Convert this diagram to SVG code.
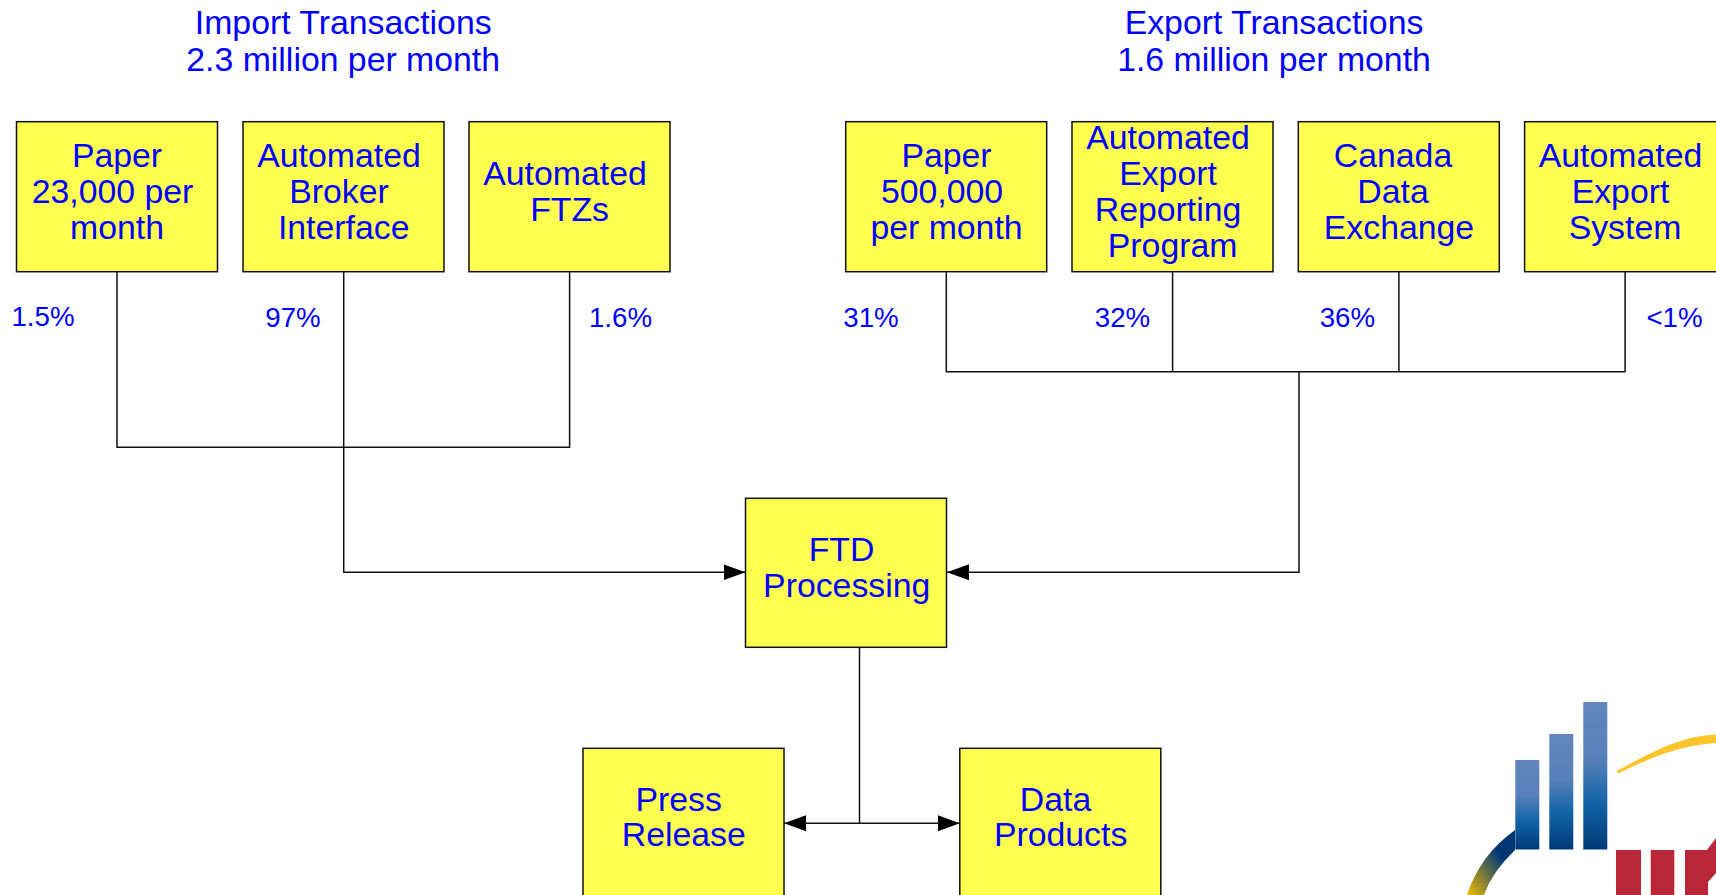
<svg xmlns="http://www.w3.org/2000/svg" width="1716" height="895" viewBox="0 0 1716 895">
<style>
.b{fill:#ffff50;stroke:#111;stroke-width:1.5}
.t{font-family:"Liberation Sans",Arial,sans-serif;font-size:33.8px;fill:#0000ff;text-anchor:middle}
.p{font-size:27.7px}
.c{fill:none;stroke:#111;stroke-width:1.5}
</style>
<defs>
<marker id="a" markerUnits="userSpaceOnUse" markerWidth="22" markerHeight="18" refX="22" refY="9" orient="auto-start-reverse"><path d="M0 1L22 9L0 17z" fill="#000"/></marker>
<linearGradient id="bar" x1="0" y1="0" x2="0" y2="1"><stop offset="0" stop-color="#6285bd"/><stop offset=".4" stop-color="#5880b8"/><stop offset=".68" stop-color="#1264a8"/><stop offset="1" stop-color="#003876"/></linearGradient>
<linearGradient id="arc" x1="0" y1="1" x2="1" y2="0"><stop offset="0" stop-color="#f0bc00"/><stop offset=".65" stop-color="#003876"/></linearGradient>
</defs>
<g id="titles">
<text class="t" x="343.2" y="33.7">Import Transactions</text><text class="t" x="343.2" y="70.7">2.3 million per month</text>
<text class="t" x="1274" y="33.7">Export Transactions</text><text class="t" x="1274" y="70.7">1.6 million per month</text>
</g>
<g id="connectors">
<path class="c" d="M117 271.7V447.3H569.6V271.7"/>
<path class="c" d="M343.7 271.7V572.3H745.5" marker-end="url(#a)"/>
<path class="c" d="M946.3 271.7V371.7H1625.1V271.7M1172.6 271.7V371.7M1398.9 271.7V371.7"/>
<path class="c" d="M1299 371.7V572.3H947" marker-end="url(#a)"/>
<path class="c" d="M859.5 647.5V823.3"/>
<path class="c" d="M784 823.3H959.8" marker-start="url(#a)" marker-end="url(#a)"/>
</g>
<g id="pct">
<text class="t p" x="43" y="326">1.5%</text><text class="t p" x="293" y="327">97%</text><text class="t p" x="620.5" y="327">1.6%</text>
<text class="t p" x="871" y="327">31%</text><text class="t p" x="1122.5" y="327">32%</text><text class="t p" x="1347.4" y="327">36%</text><text class="t p" x="1674.5" y="327">&lt;1%</text>
</g>
<g id="n1"><rect class="b" x="16.5" y="121.7" width="201" height="150"/><text class="t" x="117" y="167.3">Paper</text><text class="t" x="112.5" y="203.3">23,000 per</text><text class="t" x="117" y="239.3">month</text></g>
<g id="n2"><rect class="b" x="243" y="121.7" width="201" height="150"/><text class="t" x="339" y="167.3">Automated</text><text class="t" x="339" y="203.3">Broker</text><text class="t" x="343.7" y="239.3">Interface</text></g>
<g id="n3"><rect class="b" x="469" y="121.7" width="201" height="150"/><text class="t" x="565" y="185.3">Automated</text><text class="t" x="569.6" y="221.3">FTZs</text></g>
<g id="n4"><rect class="b" x="845.7" y="121.7" width="201" height="150"/><text class="t" x="946.5" y="167.3">Paper</text><text class="t" x="942" y="203.3">500,000</text><text class="t" x="946.5" y="239.3">per month</text></g>
<g id="n5"><rect class="b" x="1072" y="121.7" width="201" height="150"/><text class="t" x="1168" y="149.3">Automated</text><text class="t" x="1168" y="185.3">Export</text><text class="t" x="1168" y="221.3">Reporting</text><text class="t" x="1172.6" y="257.3">Program</text></g>
<g id="n6"><rect class="b" x="1298.3" y="121.7" width="201" height="150"/><text class="t" x="1393" y="167.3">Canada</text><text class="t" x="1393" y="203.3">Data</text><text class="t" x="1399" y="239.3">Exchange</text></g>
<g id="n7"><rect class="b" x="1524.6" y="121.7" width="201" height="150"/><text class="t" x="1620.5" y="167.3">Automated</text><text class="t" x="1620.5" y="203.3">Export</text><text class="t" x="1625" y="239.3">System</text></g>
<g id="n8"><rect class="b" x="745.5" y="498.3" width="201" height="149"/><text class="t" x="841.5" y="560.6">FTD</text><text class="t" x="846.7" y="596.6">Processing</text></g>
<g id="n9"><rect class="b" x="583" y="748.3" width="201" height="160"/><text class="t" x="678.6" y="811.3">Press</text><text class="t" x="683.8" y="846.3">Release</text></g>
<g id="n10"><rect class="b" x="959.8" y="748.3" width="201" height="160"/><text class="t" x="1055.5" y="811.3">Data</text><text class="t" x="1060.6" y="846.3">Products</text></g>
<g id="logo">
<path d="M1467 895Q1480 855 1515 830V850Q1492 872 1484 895z" fill="url(#arc)"/>
<rect x="1515.3" y="760" width="24" height="89.5" fill="url(#bar)"/>
<rect x="1549.3" y="734" width="24" height="115.5" fill="url(#bar)"/>
<rect x="1583.3" y="702" width="24" height="147.5" fill="url(#bar)"/>
<path d="M1616.5 771C1650 753 1680 736 1716 734.5V743C1680 745 1650 758 1618 773.5z" fill="#fdc52a"/>
<path d="M1616 850H1641V895H1616zM1650.7 850H1674.3V895H1650.7zM1685 850H1707L1716 838V873L1708 882V895H1685z" fill="#b82838"/>
</g>
</svg>
